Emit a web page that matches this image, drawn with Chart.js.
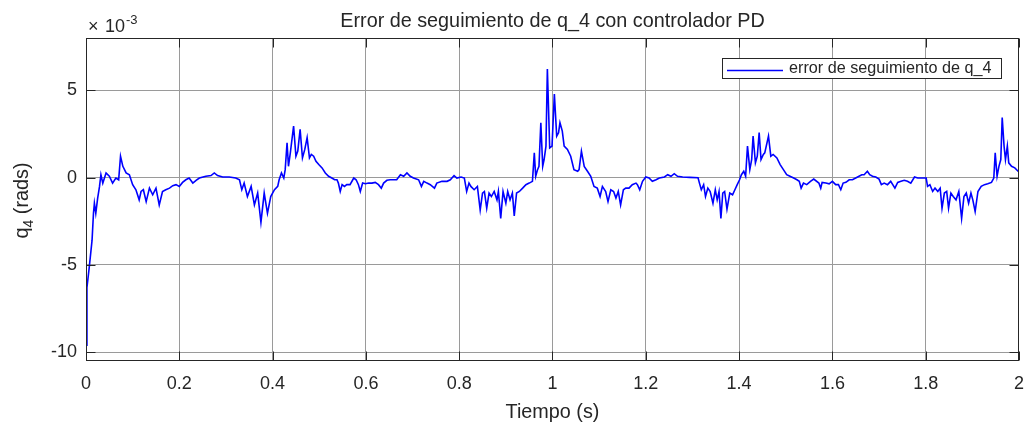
<!DOCTYPE html>
<html>
<head>
<meta charset="utf-8">
<title>Error de seguimiento de q_4 con controlador PD</title>
<script src="https://cdn.jsdelivr.net/npm/chart.js@4.4.1/dist/chart.umd.min.js"></script>
<style>
    html, body { margin: 0; padding: 0; background: #ffffff; }
    #wrap { width: 1036px; height: 425px; }
</style>
</head>
<body>
<div id="wrap"><canvas id="err-chart" width="1036" height="425"></canvas></div>
<script>
// ==========================================================
// DATA (values in units of 1e-3 rad)
// ==========================================================
const xTicks = [0, 0.2, 0.4, 0.6, 0.8, 1, 1.2, 1.4, 1.6, 1.8, 2];
const yTicks = [-10, -5, 0, 5];

// time samples (s)
const timeS = [
    0, 0.002, 0.007, 0.013, 0.016, 0.018, 0.021, 0.025, 0.029, 0.032, 0.036, 0.043, 0.05, 0.057, 0.064, 0.07,
    0.074, 0.079, 0.086, 0.093, 0.1, 0.107, 0.114, 0.118, 0.123, 0.129, 0.136, 0.143, 0.15, 0.157, 0.164, 0.171,
    0.179, 0.186, 0.193, 0.2, 0.207, 0.214, 0.221, 0.229, 0.236, 0.243, 0.257, 0.268, 0.275, 0.282, 0.293, 0.307,
    0.321, 0.329, 0.334, 0.339, 0.346, 0.354, 0.361, 0.368, 0.375, 0.382, 0.389, 0.396, 0.404, 0.411,
    0.414, 0.419, 0.424, 0.427, 0.431, 0.434, 0.438, 0.445, 0.45, 0.454, 0.459, 0.464, 0.469, 0.474, 0.479, 0.483,
    0.488, 0.493, 0.499, 0.506, 0.513, 0.52, 0.527, 0.533, 0.538, 0.541, 0.545, 0.549, 0.554, 0.559, 0.566, 0.574,
    0.579, 0.584, 0.588, 0.593, 0.599, 0.606, 0.613, 0.62, 0.627, 0.633, 0.638, 0.645, 0.652, 0.659, 0.666, 0.674,
    0.681, 0.688, 0.695, 0.702, 0.713, 0.719, 0.724, 0.731, 0.738, 0.747, 0.752, 0.763, 0.774, 0.781, 0.789, 0.795,
    0.804, 0.811, 0.816, 0.821, 0.825, 0.832, 0.839, 0.845, 0.85, 0.854, 0.859, 0.864, 0.869, 0.875, 0.881, 0.884,
    0.889, 0.894, 0.9, 0.904, 0.909, 0.914, 0.918, 0.923, 0.929, 0.936, 0.943, 0.95, 0.957, 0.961, 0.964, 0.968,
    0.971, 0.975, 0.979, 0.982, 0.986, 0.989, 0.994, 0.999, 1.004, 1.009, 1.013, 1.016, 1.021, 1.025, 1.032, 1.039,
    1.046, 1.054, 1.057, 1.062, 1.068, 1.075, 1.082, 1.089, 1.096, 1.102, 1.107, 1.114, 1.119, 1.125, 1.131, 1.136,
    1.141, 1.146, 1.152, 1.157, 1.164, 1.171, 1.179,
    1.182, 1.187, 1.193, 1.2, 1.207, 1.214, 1.222, 1.229, 1.24, 1.247, 1.254, 1.261, 1.268, 1.279, 1.294, 1.312,
    1.315, 1.319, 1.324, 1.328, 1.333, 1.338, 1.344, 1.349, 1.353, 1.357, 1.361, 1.365, 1.369, 1.374, 1.38, 1.386,
    1.391, 1.396, 1.401, 1.405, 1.41, 1.414, 1.418, 1.423, 1.427, 1.43, 1.435, 1.439, 1.443, 1.447, 1.452, 1.455,
    1.463, 1.468, 1.473, 1.481, 1.488, 1.495, 1.502, 1.509, 1.517, 1.524, 1.529, 1.533, 1.538, 1.545, 1.553, 1.56,
    1.571, 1.575, 1.578, 1.586, 1.593, 1.6, 1.607, 1.613, 1.618, 1.623, 1.629, 1.636, 1.643, 1.65, 1.657, 1.663,
    1.668, 1.675, 1.68, 1.686, 1.693, 1.7, 1.705, 1.711, 1.718, 1.725, 1.734, 1.74, 1.747, 1.754, 1.761, 1.768,
    1.776, 1.783, 1.79, 1.801, 1.804, 1.809, 1.815, 1.82, 1.826, 1.831, 1.835, 1.84, 1.845, 1.849, 1.854, 1.859,
    1.865, 1.871, 1.877, 1.882, 1.887, 1.892, 1.897, 1.901, 1.906, 1.912, 1.919, 1.926, 1.933, 1.941, 1.946, 1.949,
    1.953, 1.957, 1.961, 1.964, 1.968, 1.971, 1.975, 1.978, 1.984, 1.991, 1.998, 2.0
];

// tracking error of q_4 (x 1e-3 rad)
const errQ4 = [
    -9.6, -6.3, -5.12, -3.58, -2.04, -1.46, -2.04, -1.17, -0.5, 0.17, -0.31, 0.27, 0.08, -0.31, -0.02, -0.12,
    1.23, 0.65, 0.27, 0.17, -0.4, -0.69, -1.27, -0.79, -0.69, -1.37, -0.6, -0.98, -0.6, -1.56, -0.79, -0.69,
    -0.6, -0.46, -0.4, -0.5, -0.27, -0.12, -0.02, -0.31, -0.15, -0.02, 0.08, 0.12, 0.27, 0.12, 0.04, 0.04,
    -0.02, -0.12, -0.69, -0.31, -1.08, -0.5, -1.56, -0.88, -2.56, -0.88, -2.04, -1.08, -0.69, -0.5,
    -0.12, 0.27, -0.02, 0.46, 2.0, 0.65, 1.42, 2.96, 1.23, 1.52, 2.77, 1.13, 1.62, 2.29, 1.13, 1.33,
    1.23, 0.94, 0.75, 0.56, 0.27, 0.08, -0.02, -0.12, -0.12, -0.31, -0.79, -0.4, -0.5, -0.4, -0.4, -0.02,
    -0.12, -0.4, -0.79, -0.31, -0.35, -0.31, -0.31, -0.27, -0.4, -0.6, -0.31, -0.15, -0.12, -0.12, -0.12, 0.17,
    0.08, 0.27, 0.08, -0.02, -0.12, -0.5, -0.21, -0.31, -0.4, -0.6, -0.31, -0.21, -0.21, -0.12, 0.12, -0.02,
    0.04, -0.02, -0.79, -0.31, -0.5, -0.69, -0.5, -1.85, -0.88, -0.79, -1.75, -0.88, -1.08, -0.79, -1.27, -0.79,
    -2.33, -0.79, -1.46, -0.79, -1.27, -0.88, -2.19, -0.88, -0.79, -0.6, -0.4, -0.31, -0.21, 1.42, 0.08, 0.46,
    0.65, 3.15, 0.65, 1.04, 1.81, 6.23, 1.71, 1.81, 4.79, 2.38, 2.58, 3.15, 2.67, 1.81, 1.62, 1.23,
    0.46, 0.37, 0.46, 1.52, 0.65, 0.37, 0.08, -0.5, -0.6, -1.08, -0.5, -0.79, -1.37, -0.69, -0.79, -1.17,
    -0.79, -1.56, -0.69, -0.6, -0.6, -0.4, -0.31,
    -0.4, -0.69, -0.21, 0.04, -0.02, -0.21, -0.12, -0.02, 0.04, 0.17, 0.08, 0.23, 0.08, 0.04, 0.02, 0,
    -0.31, -0.69, -0.4, -1.08, -0.6, -0.79, -1.46, -0.69, -1.27, -0.79, -2.33, -0.88, -0.79, -1.81, -0.88, -0.98,
    -0.69, -0.4, -0.12, 0.17, 0.37, 0.08, 1.81, 0.46, 1.04, 2.38, 0.85, 1.23, 2.58, 1.04, 1.33, 1.42,
    2.38, 1.23, 1.33, 1.13, 0.75, 0.46, 0.17, 0.08, -0.02, -0.12, -0.21, -0.6, -0.31, -0.4, -0.21, -0.08,
    -0.31, -0.6, -0.27, -0.31, -0.35, -0.21, -0.4, -0.4, -0.69, -0.31, -0.27, -0.12, -0.12, -0.02, 0.08, 0.17,
    0.17, 0.37, 0.17, 0.08, 0.04, -0.08, -0.4, -0.31, -0.4, -0.21, -0.6, -0.27, -0.21, -0.15, -0.21, -0.31,
    0.04, -0.02, -0.02, -0.02, -0.5, -0.4, -0.79, -0.6, -0.79, -0.6, -1.75, -0.88, -0.79, -1.75, -0.88, -1.08,
    -1.27, -0.79, -2.33, -1.08, -0.88, -1.46, -0.88, -1.27, -1.94, -0.79, -0.5, -0.4, -0.35, -0.27, -0.02, 1.42,
    0.08, 0.65, 1.04, 3.44, 1.81, 1.04, 1.81, 0.85, 0.65, 0.56, 0.37, 0.33
];

const seriesLabel = 'error de seguimiento de q_4';
const chartTitle = 'Error de seguimiento de q_4 con controlador PD';

// ==========================================================
// STYLE
// ==========================================================
const FONT = "'Liberation Sans', Arial, Helvetica, sans-serif";
const AXIS_COLOR = '#262626';
const GRID_COLOR = '#9a9a9a';
const LINE_COLOR = '#0000ff';
const TICK_LEN = 9;

// MATLAB-like decorations: box, inward ticks, title, exponent, y label, legend
const matlabAxes = {
    id: 'matlabAxes',
    afterDraw(chart) {
        const { ctx, chartArea: a, scales: { x, y } } = chart;
        const L = Math.round(a.left) + 0.5;
        const R = Math.round(a.right) - 0.5;
        const T = Math.round(a.top) + 0.5;
        const B = Math.round(a.bottom) - 0.5;
        ctx.save();

        // axes box
        ctx.strokeStyle = AXIS_COLOR;
        ctx.lineWidth = 1;
        ctx.strokeRect(L, T, R - L, B - T);

        // inward ticks on all four sides
        ctx.beginPath();
        xTicks.forEach(v => {
            const px = Math.round(x.getPixelForValue(v)) + 0.5;
            ctx.moveTo(px, B); ctx.lineTo(px, B - TICK_LEN);
            ctx.moveTo(px, T); ctx.lineTo(px, T + TICK_LEN);
        });
        yTicks.forEach(v => {
            const py = Math.round(y.getPixelForValue(v)) + 0.5;
            ctx.moveTo(L, py); ctx.lineTo(L + TICK_LEN, py);
            ctx.moveTo(R, py); ctx.lineTo(R - TICK_LEN, py);
        });
        ctx.stroke();

        ctx.fillStyle = AXIS_COLOR;

        // title
        ctx.font = `19.8px ${FONT}`;
        ctx.textAlign = 'center';
        ctx.textBaseline = 'alphabetic';
        ctx.fillText(chartTitle, (a.left + a.right) / 2, 27);

        // exponent  x10^-3
        ctx.textAlign = 'left';
        ctx.font = `18px ${FONT}`;
        ctx.fillText('\u00d7', a.left + 2, 32);
        ctx.fillText('10', a.left + 19, 32);
        const expW = ctx.measureText('10').width;
        ctx.font = `13px ${FONT}`;
        ctx.fillText('-3', a.left + 20 + expW, 24);

        // y axis label with subscript
        ctx.save();
        ctx.translate(28, (a.top + a.bottom) / 2 + 1);
        ctx.rotate(-Math.PI / 2);
        const big = `19.8px ${FONT}`;
        const small = `14px ${FONT}`;
        ctx.font = big;
        const wQ = ctx.measureText('q').width;
        const wRest = ctx.measureText(' (rads)').width;
        ctx.font = small;
        const wSub = ctx.measureText('4').width;
        let cx = -(wQ + wSub + wRest) / 2;
        ctx.font = big;
        ctx.fillText('q', cx, 0);
        cx += wQ;
        ctx.font = small;
        ctx.fillText('4', cx, 5);
        cx += wSub;
        ctx.font = big;
        ctx.fillText(' (rads)', cx, 0);
        ctx.restore();

        // legend box
        ctx.fillStyle = '#ffffff';
        ctx.fillRect(722.5, 58.5, 279, 20);
        ctx.strokeStyle = AXIS_COLOR;
        ctx.strokeRect(722.5, 58.5, 279, 20);
        ctx.beginPath();
        ctx.strokeStyle = LINE_COLOR;
        ctx.lineWidth = 1.5;
        ctx.moveTo(727, 70.5);
        ctx.lineTo(783, 70.5);
        ctx.stroke();
        ctx.fillStyle = AXIS_COLOR;
        ctx.font = `16.2px ${FONT}`;
        ctx.textBaseline = 'middle';
        ctx.fillText(chart.data.datasets[0].label, 789, 69);

        ctx.restore();
    }
};

const points = timeS.map((t, i) => ({ x: t, y: errQ4[i] }));

const fmtTick = v => String(Number(v.toFixed(1)));

new Chart(document.getElementById('err-chart'), {
    type: 'line',
    data: {
        datasets: [{
            label: seriesLabel,
            data: points,
            borderColor: LINE_COLOR,
            borderWidth: 1.6,
            pointRadius: 0,
            fill: false,
            tension: 0
        }]
    },
    options: {
        responsive: false,
        animation: false,
        devicePixelRatio: 1,
        layout: { padding: { top: 38, right: 13, bottom: 0, left: 0 } },
        plugins: {
            legend: { display: false },
            title: { display: false },
            tooltip: { enabled: false }
        },
        scales: {
            x: {
                type: 'linear',
                min: 0,
                max: 2,
                afterBuildTicks: s => { s.ticks = xTicks.map(v => ({ value: v })); },
                afterFit: s => { s.height = 64; },
                ticks: {
                    callback: v => fmtTick(v),
                    font: { family: FONT, size: 18 },
                    color: AXIS_COLOR,
                    padding: 12,
                    maxRotation: 0,
                    autoSkip: false
                },
                grid: { color: GRID_COLOR, lineWidth: 1, drawTicks: false },
                border: { display: false },
                title: {
                    display: true,
                    text: 'Tiempo (s)',
                    font: { family: FONT, size: 19.8 },
                    color: AXIS_COLOR,
                    padding: { top: 0, bottom: 1 }
                }
            },
            y: {
                type: 'linear',
                min: -10.5,
                max: 8,
                afterBuildTicks: s => { s.ticks = yTicks.map(v => ({ value: v })); },
                afterFit: s => { s.width = 86; },
                ticks: {
                    callback: v => fmtTick(v),
                    font: { family: FONT, size: 18 },
                    color: AXIS_COLOR,
                    padding: 9
                },
                grid: { color: GRID_COLOR, lineWidth: 1, drawTicks: false },
                border: { display: false }
            }
        }
    },
    plugins: [matlabAxes]
});
</script>
</body>
</html>
